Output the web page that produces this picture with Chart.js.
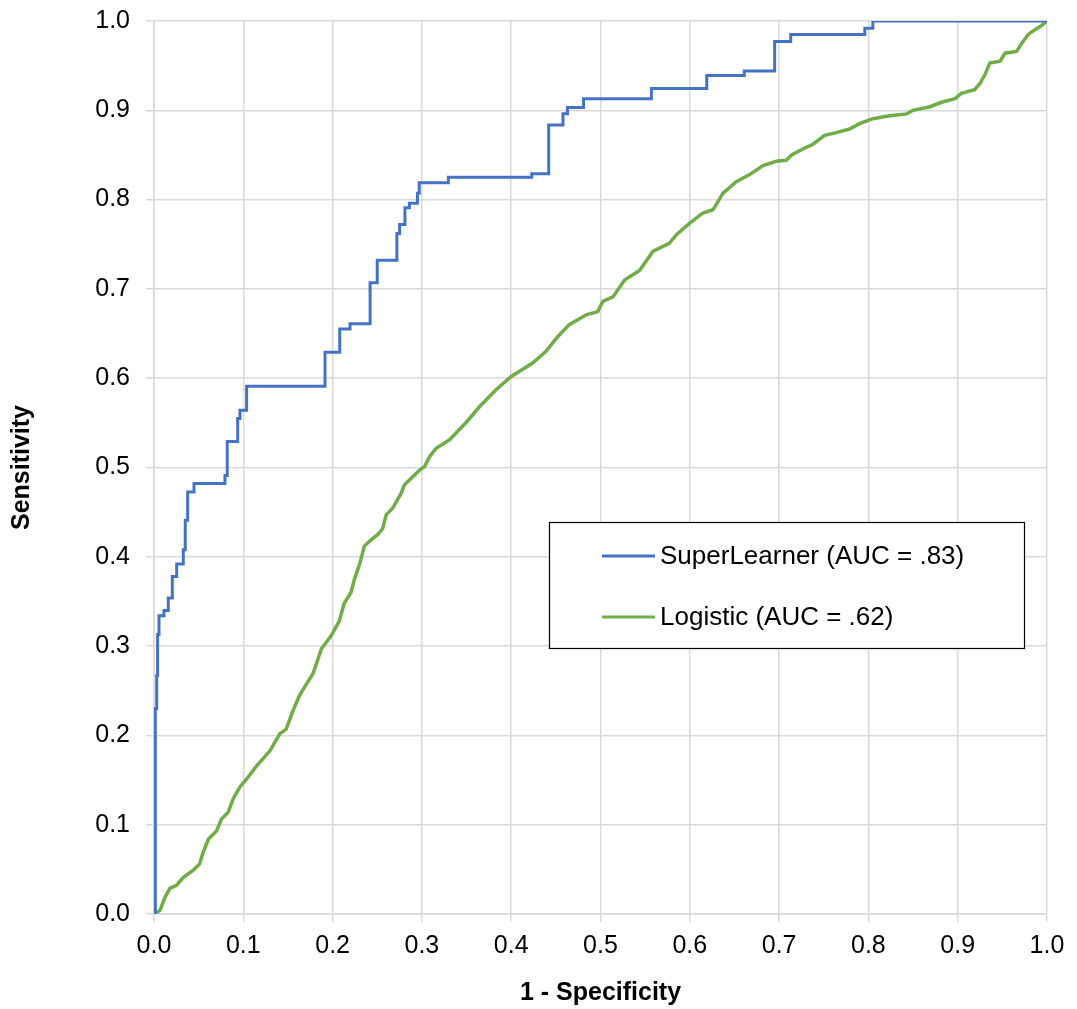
<!DOCTYPE html>
<html>
<head>
<meta charset="utf-8">
<script src="https://cdn.jsdelivr.net/npm/chart.js@4.4.1/dist/chart.umd.min.js"></script>
<style>
  html, body { margin: 0; padding: 0; background: #fff; }
  #wrap { width: 1077px; height: 1009px; position: relative; }
</style>
</head>
<body>
<div id="wrap"><canvas id="c" width="1077" height="1009"></canvas></div>
<script>
// Tick values
const tickValues = [0, 0.1, 0.2, 0.3, 0.4, 0.5, 0.6, 0.7, 0.8, 0.9, 1.0];

// Series names
const seriesNames = ['SuperLearner (AUC = .83)', 'Logistic (AUC = .62)'];

// SuperLearner ROC (step curve: x at each riser, y at top of riser)
const slFpr = [0, 0.0015, 0.003, 0.004, 0.0056, 0.0112, 0.016, 0.0205, 0.0254, 0.0328, 0.035, 0.0377, 0.0448, 0.0795, 0.082, 0.0937, 0.0963, 0.1037, 0.1915, 0.208, 0.2195, 0.242, 0.25, 0.272, 0.275, 0.281, 0.286, 0.295, 0.297, 0.3296, 0.423, 0.442, 0.458, 0.463, 0.481, 0.557, 0.619, 0.661, 0.695, 0.713, 0.796, 0.805, 1.0];
const slTpr = [0, 0.23, 0.267, 0.313, 0.334, 0.34, 0.354, 0.378, 0.392, 0.408, 0.441, 0.4725, 0.482, 0.491, 0.529, 0.555, 0.564, 0.591, 0.629, 0.655, 0.661, 0.707, 0.732, 0.762, 0.772, 0.791, 0.796, 0.807, 0.819, 0.825, 0.829, 0.8835, 0.896, 0.903, 0.913, 0.9245, 0.939, 0.944, 0.977, 0.985, 0.992, 1.0, 1.0];

// Logistic ROC
const lrFpr = [0, 0.0067, 0.0123, 0.018, 0.025, 0.033, 0.044, 0.051, 0.055, 0.061, 0.07, 0.0757, 0.083, 0.0887, 0.096, 0.1036, 0.115, 0.13, 0.141, 0.148, 0.1558, 0.163, 0.171, 0.178, 0.1875, 0.198, 0.2075, 0.213, 0.2206, 0.2243, 0.23, 0.2356, 0.2412, 0.2506, 0.2562, 0.26, 0.2674, 0.2768, 0.2805, 0.288, 0.2974, 0.303, 0.3086, 0.316, 0.331, 0.35, 0.3645, 0.383, 0.4, 0.424, 0.439, 0.452, 0.465, 0.484, 0.497, 0.5026, 0.514, 0.527, 0.544, 0.5586, 0.577, 0.585, 0.6, 0.6146, 0.626, 0.637, 0.652, 0.667, 0.682, 0.697, 0.708, 0.714, 0.727, 0.738, 0.751, 0.764, 0.779, 0.79, 0.805, 0.824, 0.843, 0.85, 0.869, 0.882, 0.897, 0.904, 0.919, 0.925, 0.9305, 0.936, 0.9475, 0.953, 0.966, 0.972, 0.979, 0.987, 0.994, 1.0];
const lrTpr = [0, 0.004, 0.0187, 0.029, 0.032, 0.041, 0.049, 0.056, 0.069, 0.084, 0.093, 0.1065, 0.114, 0.129, 0.142, 0.151, 0.166, 0.183, 0.202, 0.207, 0.228, 0.245, 0.258, 0.269, 0.297, 0.311, 0.328, 0.348, 0.36, 0.3745, 0.391, 0.412, 0.4173, 0.425, 0.432, 0.447, 0.4546, 0.4713, 0.4806, 0.488, 0.497, 0.501, 0.512, 0.5216, 0.531, 0.551, 0.568, 0.587, 0.602, 0.617, 0.63, 0.6465, 0.66, 0.671, 0.6746, 0.686, 0.691, 0.71, 0.721, 0.742, 0.751, 0.7606, 0.7736, 0.785, 0.7886, 0.807, 0.82, 0.828, 0.838, 0.843, 0.844, 0.85, 0.857, 0.862, 0.872, 0.875, 0.879, 0.885, 0.8906, 0.894, 0.896, 0.9, 0.904, 0.909, 0.913, 0.919, 0.923, 0.93, 0.94, 0.953, 0.955, 0.964, 0.966, 0.9755, 0.985, 0.9906, 0.995, 1.0];

const FONT = "'Liberation Sans', Arial, sans-serif";
const BLUE = '#4472C4';
const GREEN = '#70AD47';
const GRID = '#d9d9d9';

const toPts = (xs, ys) => xs.map((x, i) => ({ x: x, y: ys[i] }));

const boxLegend = {
  id: 'boxLegend',
  afterDraw(chart) {
    const ctx = chart.ctx;
    const a = chart.chartArea;
    const L = a.left + 395, T = a.top + 501, W = 475, H = 126;
    ctx.save();
    ctx.fillStyle = '#fff';
    ctx.fillRect(L, T, W, H);
    ctx.strokeStyle = '#000';
    ctx.lineWidth = 1.2;
    ctx.strokeRect(L + 0.5, T + 0.5, W, H);
    const items = [[seriesNames[0], BLUE, 34], [seriesNames[1], GREEN, 95]];
    ctx.font = '26px ' + FONT;
    ctx.textBaseline = 'middle';
    ctx.textAlign = 'left';
    items.forEach(([txt, col, dy]) => {
      ctx.strokeStyle = col;
      ctx.lineWidth = 3;
      ctx.beginPath();
      ctx.moveTo(L + 53, T + dy);
      ctx.lineTo(L + 106, T + dy);
      ctx.stroke();
      ctx.fillStyle = '#000';
      ctx.fillText(txt, L + 111, T + dy + 1);
    });
    ctx.restore();
  }
};

new Chart(document.getElementById('c'), {
  type: 'scatter',
  data: {
    datasets: [
      {
        label: seriesNames[0],
        data: toPts(slFpr, slTpr),
        showLine: true,
        stepped: true,
        borderColor: BLUE,
        backgroundColor: BLUE,
        borderWidth: 3,
        pointRadius: 0,
        pointHoverRadius: 0,
        fill: false
      },
      {
        label: seriesNames[1],
        data: toPts(lrFpr, lrTpr),
        showLine: true,
        tension: 0,
        borderColor: GREEN,
        backgroundColor: GREEN,
        borderWidth: 3.5,
        pointRadius: 0,
        pointHoverRadius: 0,
        fill: false
      }
    ]
  },
  options: {
    responsive: false,
    animation: false,
    devicePixelRatio: 1,
    layout: { padding: { top: 21, right: 30, left: 0, bottom: 0 } },
    plugins: {
      legend: { display: false },
      tooltip: { enabled: false }
    },
    scales: {
      x: {
        type: 'linear',
        min: 0, max: 1,
        afterFit: (s) => { s.height = 95; s.paddingLeft = 0; s.paddingRight = 0; },
        afterBuildTicks: (s) => { s.ticks = tickValues.map(v => ({ value: v })); },
        ticks: {
          color: '#000',
          font: { family: FONT, size: 25 },
          padding: 9,
          maxRotation: 0,
          callback: (v) => Number(v).toFixed(1)
        },
        grid: { color: GRID, lineWidth: 1.5, tickLength: 8, tickColor: GRID },
        border: { color: GRID, width: 1.5 },
        title: {
          display: true,
          text: '1 - Specificity',
          color: '#000',
          font: { family: FONT, size: 25, weight: 'bold' },
          padding: { top: 0, bottom: 1 }
        }
      },
      y: {
        type: 'linear',
        min: 0, max: 1,
        afterFit: (s) => { s.width = 154; s.paddingTop = 0; s.paddingBottom = 0; },
        afterBuildTicks: (s) => { s.ticks = tickValues.map(v => ({ value: v })); },
        ticks: {
          color: '#000',
          font: { family: FONT, size: 25 },
          padding: 16,
          callback: (v) => Number(v).toFixed(1)
        },
        grid: { color: GRID, lineWidth: 1.5, tickLength: 8, tickColor: GRID },
        border: { color: GRID, width: 1.5 },
        title: {
          display: true,
          text: 'Sensitivity',
          color: '#000',
          font: { family: FONT, size: 25, weight: 'bold' },
          padding: { top: 7, bottom: 0 }
        }
      }
    }
  },
  plugins: [boxLegend]
});
</script>
</body>
</html>
